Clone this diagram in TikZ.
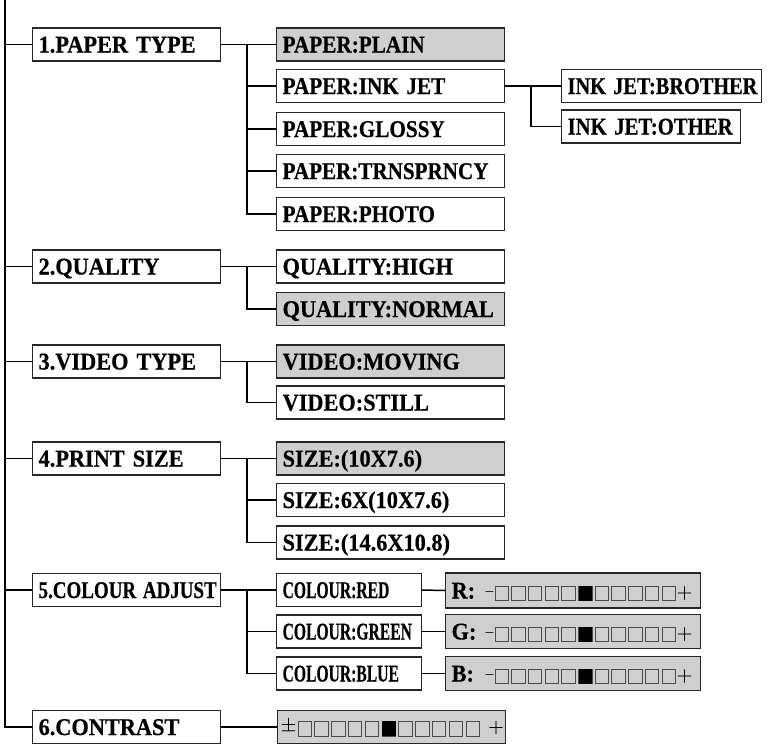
\documentclass[tikz,border=0pt]{standalone}
\usepackage{fontspec}
\setmainfont{Liberation Serif}
\newfontfamily\condfont{Liberation Serif}[FakeStretch=0.93,FakeBold=0.5,WordSpace=0.6]
\newfontfamily\lmfont{Latin Modern Roman}[FakeBold=0.8]
\begin{document}
\begin{tikzpicture}[x=1pt,y=-1pt,
  box/.style={draw=black!85, line width=1.2pt, rectangle, anchor=west,
    inner xsep=6pt, inner ysep=0pt, minimum height=33pt,
    text height=16pt, text depth=0pt, align=left,
    font=\condfont\fontsize{24}{26}\selectfont\bfseries},
  shade/.style={fill=black!19},
  wA/.style={text width=176pt},
  wB/.style={text width=216pt},
  wCa/.style={text width=188pt},
  wCb/.style={text width=167pt},
  wD/.style={text width=133pt},
  wE/.style={text width=243pt},
  wF/.style={text width=216pt},
  conn/.style={line width=1.5pt, black},
  sqr/.style={draw=black!70, line width=0.9pt},
  sym/.style={inner sep=0pt, font=\lmfont\fontsize{21}{22}\selectfont},
  dsh/.style={inner sep=0pt, font=\lmfont\fontsize{16}{17}\selectfont}
]
\useasboundingbox (0,0) rectangle (767,744);

% level 1
\node[box,wA] (l1) at (32,44.5) {1.PAPER TYPE};
\node[box,wA] (l2) at (32,266.5) {2.QUALITY};
\node[box,wA] (l3) at (32,361.5) {3.VIDEO TYPE};
\node[box,wA] (l4) at (32,458.5) {4.PRINT SIZE};
\node[box,wA] (l5) at (32,590) {\scalebox{0.85}[1]{5.COLOUR ADJUST}};
\node[box,wA] (l6) at (32,727) {6.CONTRAST};

% level 2
\node[box,wB,shade] (p1) at (276,44.5) {\scalebox{0.95}[1]{PAPER:PLAIN}};
\node[box,wB] (p2) at (276,86) {\scalebox{0.95}[1]{PAPER:INK JET}};
\node[box,wB] (p3) at (276,129) {\scalebox{0.95}[1]{PAPER:GLOSSY}};
\node[box,wB] (p4) at (276,171) {\scalebox{0.945}[1]{PAPER:TRNSPRNCY}};
\node[box,wB] (p5) at (276,214) {\scalebox{0.95}[1]{PAPER:PHOTO}};

\node[box,wB] (q1) at (276,266.5) {QUALITY:HIGH};
\node[box,wB,shade] (q2) at (276,309) {QUALITY:NORMAL};

\node[box,wB,shade] (v1) at (276,361.5) {VIDEO:MOVING};
\node[box,wB] (v2) at (276,402.5) {VIDEO:STILL};

\node[box,wB,shade] (s1) at (276,458.5) {SIZE:(10X7.6)};
\node[box,wB] (s2) at (276,500) {SIZE:6X(10X7.6)};
\node[box,wB] (s3) at (276,542.5) {SIZE:(14.6X10.8)};

\node[box,wD] (c1) at (276,590) {\scalebox{0.70}[1]{COLOUR:RED}};
\node[box,wD] (c2) at (276,631.5) {\scalebox{0.70}[1]{COLOUR:GREEN}};
\node[box,wD] (c3) at (276,673.5) {\scalebox{0.70}[1]{COLOUR:BLUE}};

\node[box,wF,shade] (ct) at (277,727) {};

% level 3
\node[box,wCa] (i1) at (561,86) {\scalebox{0.91}[1]{INK JET:BROTHER}};
\node[box,wCb] (i2) at (561,126.5) {\scalebox{0.93}[1]{INK JET:OTHER}};

\node[box,wE,shade,minimum height=35pt] (r1) at (445,590.5) {R:};
\node[box,wE,shade,minimum height=34pt] (r2) at (445,631.5) {G:};
\node[box,wE,shade,minimum height=34pt] (r3) at (445,673.5) {B:};

% sliders
\foreach \n in {r1,r2,r3}{
  \node[dsh] (\n m) at ([shift={(44.5,3)}]\n.west) {–};
  \node[sym] (\n p) at ([shift={(239.5,2.5)}]\n.west) {+};
  \foreach \i in {0,...,10}{
    \draw[sqr] ([shift={(50+16.7*\i,-4.5)}]\n.west) rectangle ++(13.5,14.5);
  }
  \fill[black] ([shift={(50+16.7*5,-4.5)}]\n.west) rectangle ++(13.5,14.5);
}
\node[sym] (ctpm) at ([shift={(11.5,-2.5)}]ct.west) {±};
\node[sym] (ctp) at ([shift={(219,0.5)}]ct.west) {+};
\foreach \i in {0,...,10}{
  \draw[sqr] ([shift={(21+16.8*\i,-6)}]ct.west) rectangle ++(13.5,15);
}
\fill[black] ([shift={(21+16.8*5,-6)}]ct.west) rectangle ++(13.5,15);

% trunk
\coordinate (top) at (5,0);
\draw[conn] (top) |- (l6.west);
\foreach \n in {l1,l2,l3,l4,l5}{
  \draw[conn] (top |- \n.west) -- (\n.west);
}

% branches
\coordinate (br) at (247,0);
\draw[conn] (l1.east) -- (p1.west);
\draw[conn] (br |- l1.east) |- (p5.west);
\foreach \n in {p2,p3,p4}{ \draw[conn] (br |- \n.west) -- (\n.west); }

\draw[conn] (l2.east) -- (q1.west);
\draw[conn] (br |- l2.east) |- (q2.west);

\draw[conn] (l3.east) -- (v1.west);
\draw[conn] (br |- l3.east) |- (v2.west);

\draw[conn] (l4.east) -- (s1.west);
\draw[conn] (br |- l4.east) |- (s3.west);
\draw[conn] (br |- s2.west) -- (s2.west);

\draw[conn] (l5.east) -- (c1.west);
\draw[conn] (br |- l5.east) |- (c3.west);
\draw[conn] (br |- c2.west) -- (c2.west);

\draw[conn] (c1.east) -- (r1.west);
\draw[conn] (c2.east) -- (r2.west);
\draw[conn] (c3.east) -- (r3.west);

\draw[conn] (l6.east) -- (ct.west);

% ink jet branch
\coordinate (bi) at (531,0);
\draw[conn] (p2.east) -- (i1.west);
\draw[conn] (bi |- i1.west) |- (i2.west);
\end{tikzpicture}
\end{document}
